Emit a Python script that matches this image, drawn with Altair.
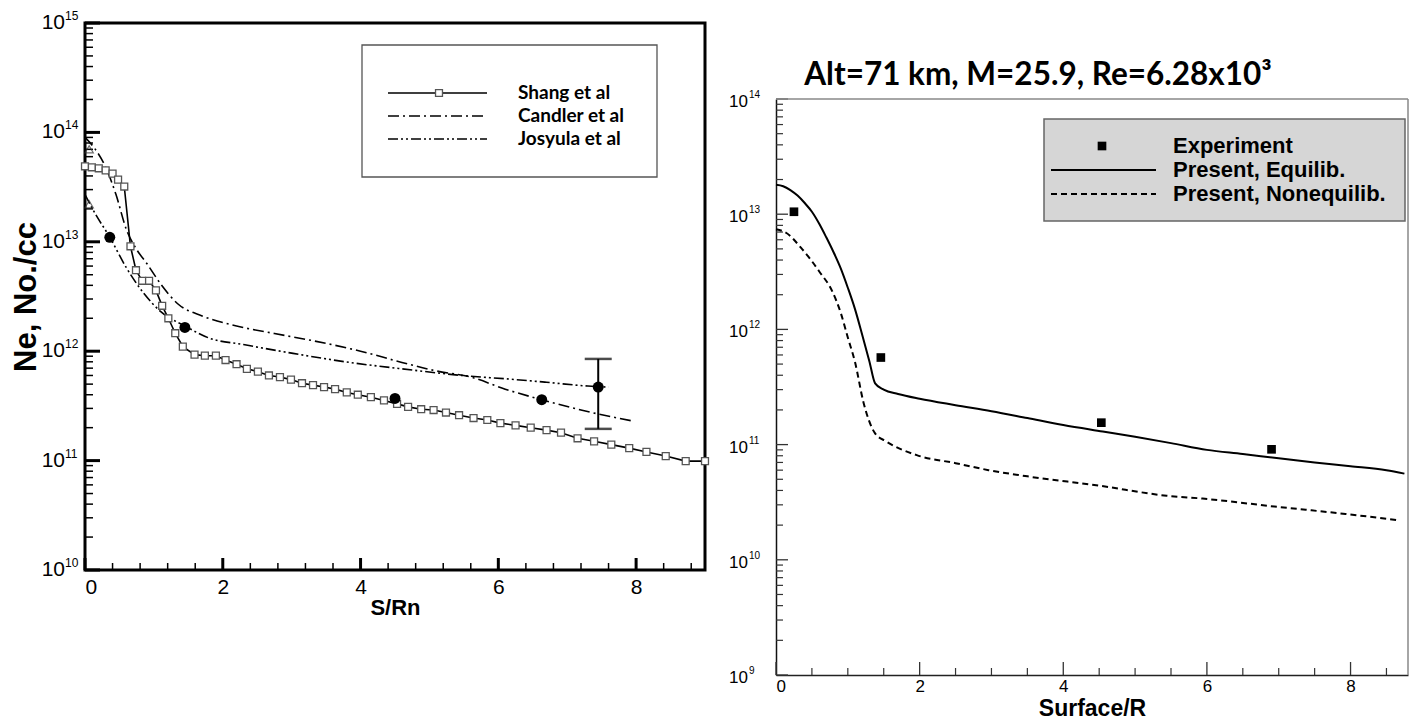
import altair as alt
import pandas as pd

FONT = "Liberation Sans"

# ---------------- left panel data ----------------
shang_x = [0, 0.1, 0.2, 0.3, 0.4, 0.48, 0.57, 0.66, 0.74, 0.83, 0.93, 1.03, 1.12, 1.21, 1.31, 1.42,
           1.59, 1.74, 1.90, 2.04, 2.20, 2.35, 2.51, 2.67, 2.83, 2.99, 3.15, 3.31, 3.47, 3.63, 3.80, 3.96,
           4.15, 4.34, 4.53, 4.69, 4.88, 5.06, 5.24, 5.43, 5.64, 5.84, 6.03, 6.25, 6.47, 6.70, 6.91, 7.15,
           7.39, 7.64, 7.90, 8.15, 8.43, 8.72, 9.0]
shang_y = [4.9e13, 4.8e13, 4.7e13, 4.5e13, 4.2e13, 3.7e13, 3.2e13, 9.1e12, 5.5e12, 4.4e12, 4.4e12, 3.6e12, 2.6e12, 2.0e12, 1.46e12, 1.1e12,
           9.3e11, 9.1e11, 9.1e11, 8.3e11, 7.6e11, 6.9e11, 6.5e11, 6.0e11, 5.8e11, 5.5e11, 5.1e11, 4.9e11, 4.7e11, 4.5e11, 4.2e11, 4.0e11,
           3.8e11, 3.55e11, 3.3e11, 3.1e11, 2.95e11, 2.9e11, 2.75e11, 2.6e11, 2.45e11, 2.35e11, 2.2e11, 2.1e11, 2.0e11, 1.9e11, 1.8e11, 1.6e11,
           1.5e11, 1.4e11, 1.3e11, 1.2e11, 1.1e11, 9.9e10, 9.9e10]

candler_x = [0.0, 0.15, 0.3, 0.45, 0.6, 0.75, 0.9, 1.1, 1.35, 1.7, 2.2, 2.75, 3.3, 4.0, 4.6, 5.1, 5.6, 6.1, 6.63, 7.2, 7.95]
candler_y = [9.0e13, 7.0e13, 4.8e13, 2.7e13, 1.3e13, 8.5e12, 6.3e12, 4.1e12, 2.7e12, 2.1e12, 1.7e12, 1.45e12, 1.25e12, 1.0e12,
             7.9e11, 6.6e11, 5.8e11, 4.5e11, 3.6e11, 2.9e11, 2.3e11]

josyula_x = [0.0, 0.15, 0.36, 0.6, 0.85, 1.1, 1.45, 1.8, 2.3, 3.0, 3.9, 4.6, 5.6, 6.1, 6.7, 7.3, 7.6]
josyula_y = [2.7e13, 1.8e13, 1.1e13, 5.8e12, 3.4e12, 2.3e12, 1.7e12, 1.32e12, 1.15e12, 9.6e11, 7.8e11, 6.9e11, 5.9e11,
             5.6e11, 5.2e11, 4.8e11, 4.7e11]

start_x = [0.06, 0.06]
start_y = [7.0e13, 2.2e13]

flight_x = [0.36, 1.45, 4.5, 6.63, 7.45]
flight_y = [1.1e13, 1.65e12, 3.7e11, 3.6e11, 4.7e11]

err_x = [7.45]
err_lo = [1.95e11]
err_hi = [8.5e11]

left_x_major = [0, 2, 4, 6, 8]
left_x_minor = [0.4, 0.8, 1.2, 1.6, 2.4, 2.8, 3.2, 3.6, 4.4, 4.8, 5.2, 5.6, 6.4, 6.8, 7.2, 7.6, 8.4, 8.8]
left_y_major = [1e10, 1e11, 1e12, 1e13, 1e14, 1e15]
left_y_exp = ["10", "11", "12", "13", "14", "15"]
left_y_minor = [m * d for d in [1e10, 1e11, 1e12, 1e13, 1e14] for m in [2, 3, 4, 5, 6, 7, 8, 9]]

left_legend = ["Shang et al", "Candler et al", "Josyula et al"]

# ---------------- right panel data ----------------
equil_x = [0.0, 0.1, 0.2, 0.3, 0.4, 0.5, 0.6, 0.7, 0.8, 0.9, 1.0, 1.1, 1.2, 1.3, 1.38, 1.5, 1.7, 2.0, 2.5, 3.0,
           3.5, 4.0, 4.55, 5.0, 5.5, 6.0, 6.5, 7.0, 7.5, 8.0, 8.5, 8.75]
equil_y = [1.8e13, 1.75e13, 1.62e13, 1.45e13, 1.25e13, 1.05e13, 8.3e12, 6.3e12, 4.7e12, 3.4e12, 2.3e12, 1.5e12,
           9.0e11, 5.3e11, 3.4e11, 3.0e11, 2.75e11, 2.5e11, 2.2e11, 1.95e11, 1.7e11, 1.48e11, 1.3e11, 1.17e11,
           1.03e11, 9.0e10, 8.3e10, 7.6e10, 7.0e10, 6.5e10, 6.0e10, 5.6e10]

noneq_x = [0.0, 0.14, 0.35, 0.6, 0.79, 0.9, 1.0, 1.1, 1.22, 1.38, 1.53, 1.96, 2.5, 2.96, 3.5, 4.5, 5.44, 5.94,
           6.94, 7.93, 8.68]
noneq_y = [7.4e12, 6.9e12, 5.1e12, 3.2e12, 2.1e12, 1.4e12, 8.5e11, 5.2e11, 2.3e11, 1.25e11, 1.07e11, 8.1e10, 6.9e10,
           6.0e10, 5.3e10, 4.4e10, 3.6e10, 3.4e10, 2.9e10, 2.5e10, 2.2e10]

exp_x = [0.25, 1.46, 4.53, 6.9]
exp_y = [1.05e13, 5.7e11, 1.55e11, 9.1e10]

right_x_major = [0, 2, 4, 6, 8]
right_x_minor = [0.5, 1, 1.5, 2.5, 3, 3.5, 4.5, 5, 5.5, 6.5, 7, 7.5, 8.5]
right_y_major = [1e9, 1e10, 1e11, 1e12, 1e13, 1e14]
right_y_exp = ["9", "10", "11", "12", "13", "14"]
right_y_minor = [m * d for d in [1e9, 1e10, 1e11, 1e12, 1e13] for m in [2, 3, 4, 5, 6, 7, 8, 9]]

right_legend = ["Experiment", "Present, Equilib.", "Present, Nonequilib."]
right_title = "Alt=71 km, M=25.9, Re=6.28x10\u00b3"

# ---------------- helpers ----------------
ONE = alt.Data(values=[{"k": 1}])


def df(x, y):
    return pd.DataFrame({"x": x, "y": y})


# ================= LEFT PANEL =================
LW, LH = 620, 547
lxs = alt.Scale(domain=[0, 9], nice=False, zero=False)
lys = alt.Scale(type="log", domain=[1e10, 1e15], nice=False)
lxa = alt.Axis(values=left_x_major, format="d", labelFont=FONT, labelFontSize=21, labelColor="black",
               labelPadding=6, ticks=False, domain=False, grid=False, title="S/Rn",
               titleFont=FONT, titleFontSize=22, titleFontWeight="bold", titleColor="black", titlePadding=0)
lya = alt.Axis(labels=False, ticks=False, domain=False, grid=False, title="Ne, No./cc",
               titleFont=FONT, titleFontSize=31, titleFontWeight="bold", titleColor="black", titlePadding=43)


def LX(f="x"):
    return alt.X(f"{f}:Q", scale=lxs, axis=lxa)


def LY(f="y"):
    return alt.Y(f"{f}:Q", scale=lys, axis=lya)


candler = alt.Chart(df(candler_x, candler_y)).mark_line(
    color="black", strokeWidth=1.6, strokeDash=[11, 4, 2, 4], interpolate="monotone").encode(x=LX(), y=LY())
josyula = alt.Chart(df(josyula_x, josyula_y)).mark_line(
    color="black", strokeWidth=1.6, strokeDash=[10, 3, 2, 3, 2, 3], interpolate="monotone").encode(x=LX(), y=LY())
shang_line = alt.Chart(df(shang_x, shang_y)).mark_line(color="black", strokeWidth=1.6).encode(x=LX(), y=LY())
shang_pts = alt.Chart(df(shang_x, shang_y)).mark_point(
    shape="square", size=48, filled=True, fill="white", fillOpacity=1, stroke="#555", strokeWidth=1.3, opacity=1
).encode(x=LX(), y=LY())
starts = alt.Chart(df(start_x, start_y)).mark_point(
    shape="triangle-up", size=70, filled=False, stroke="#333", strokeWidth=1.2).encode(x=LX(), y=LY())
flight = alt.Chart(df(flight_x, flight_y)).mark_circle(size=120, color="black", opacity=1).encode(x=LX(), y=LY())
err_df = pd.DataFrame({"x": err_x, "lo": err_lo, "hi": err_hi})
err_bar = alt.Chart(err_df).mark_rule(color="black", strokeWidth=2).encode(
    x=LX(), y=LY("lo"), y2=alt.Y2("hi:Q"))
caps = alt.Chart(df(err_x * 2, err_lo + err_hi)).mark_tick(
    orient="horizontal", size=27, thickness=2.5, color="black").encode(x=LX(), y=LY())

ly_major = alt.Chart(pd.DataFrame({"y": left_y_major})).mark_rule(
    color="black", strokeWidth=3).encode(y=LY(), x=alt.value(0), x2=alt.value(15))
ly_minor = alt.Chart(pd.DataFrame({"y": left_y_minor})).mark_rule(
    color="black", strokeWidth=1.5).encode(y=LY(), x=alt.value(0), x2=alt.value(8))
lx_major = alt.Chart(pd.DataFrame({"x": left_x_major})).mark_rule(
    color="black", strokeWidth=3).encode(x=LX(), y=alt.value(LH), y2=alt.value(LH - 12))
lx_minor = alt.Chart(pd.DataFrame({"x": left_x_minor})).mark_rule(
    color="black", strokeWidth=1.5).encode(x=LX(), y=alt.value(LH), y2=alt.value(LH - 7))
ly_lab = alt.Chart(pd.DataFrame({"y": left_y_major, "e": left_y_exp})).mark_text(
    align="right", baseline="middle", fontSize=21, font=FONT, color="black").encode(
    y=LY(), x=alt.value(-20), text=alt.value("10"))
ly_exp = alt.Chart(pd.DataFrame({"y": left_y_major, "e": left_y_exp})).mark_text(
    align="left", baseline="middle", fontSize=12, font=FONT, color="black", dy=-7).encode(
    y=LY(), x=alt.value(-20), text="e:N")

# legend (left)
L0x, L0y = 277, 22
leg_box = alt.Chart(ONE).mark_rect(fill="white", stroke="#555", strokeWidth=1.3).encode(
    x=alt.value(L0x), x2=alt.value(L0x + 295), y=alt.value(L0y), y2=alt.value(L0y + 132))
leg_rows = [70, 93, 116]
leg_dash = [[1, 0], [11, 4, 2, 4], [10, 3, 2, 3, 2, 3]]
left_leg_layers = [leg_box]
for yy, dash, lab in zip(leg_rows, leg_dash, left_legend):
    left_leg_layers.append(alt.Chart(ONE).mark_rule(color="black", strokeWidth=1.6, strokeDash=dash).encode(
        x=alt.value(303), x2=alt.value(402), y=alt.value(yy)))
    left_leg_layers.append(alt.Chart(ONE).mark_text(
        align="left", baseline="middle", font="Lato", fontWeight="bold", fontSize=19, color="black").encode(
        x=alt.value(433), y=alt.value(yy), text=alt.value(lab)))
left_leg_layers.append(alt.Chart(ONE).mark_point(
    shape="square", size=48, filled=True, fill="white", stroke="#555", strokeWidth=1.3, opacity=1).encode(
    x=alt.value(354), y=alt.value(leg_rows[0])))

left = alt.layer(
    ly_minor, ly_major, lx_minor, lx_major, candler, josyula, shang_line, shang_pts, starts,
    err_bar, caps, flight, ly_lab, ly_exp, *left_leg_layers
).properties(width=LW, height=LH, view=alt.ViewBackground(stroke="black", strokeWidth=3))

# ================= RIGHT PANEL =================
# the right panel's group is taller; the plot itself starts TOP px below the group top,
# leaving room for the panel title so that it sits lower than the left panel.
RW, TOP, RHT = 632, 76, 652
rxs = alt.Scale(domain=[0, 8.8], nice=False, zero=False)
rys = alt.Scale(type="log", domain=[1e9, 1e14], nice=False, range=[RHT, TOP])
rxa = alt.Axis(values=right_x_major, format="d", labelFont=FONT, labelFontSize=17, labelColor="black",
               labelPadding=3, ticks=False, domain=True, domainColor="#222", domainWidth=1.5, grid=False,
               title="Surface/R", titleFont=FONT, titleFontSize=23, titleFontWeight="bold", titleColor="black",
               titlePadding=3)
rya = alt.Axis(labels=False, ticks=False, domain=True, domainColor="#111", domainWidth=1.5, grid=False, title=None)


def RX(f="x"):
    return alt.X(f"{f}:Q", scale=rxs, axis=rxa)


def RY(f="y"):
    return alt.Y(f"{f}:Q", scale=rys, axis=rya)


equil = alt.Chart(df(equil_x, equil_y)).mark_line(
    color="black", strokeWidth=2, interpolate="monotone").encode(x=RX(), y=RY())
noneq = alt.Chart(df(noneq_x, noneq_y)).mark_line(
    color="black", strokeWidth=2, strokeDash=[6, 4], interpolate="monotone").encode(x=RX(), y=RY())
exper = alt.Chart(df(exp_x, exp_y)).mark_point(
    shape="square", size=75, filled=True, color="black", opacity=1).encode(x=RX(), y=RY())

ry_major = alt.Chart(pd.DataFrame({"y": right_y_major})).mark_rule(
    color="#333", strokeWidth=1.3).encode(y=RY(), x=alt.value(0), x2=alt.value(12))
ry_minor = alt.Chart(pd.DataFrame({"y": right_y_minor})).mark_rule(
    color="#333", strokeWidth=1.2).encode(y=RY(), x=alt.value(0), x2=alt.value(7))
rx_major = alt.Chart(pd.DataFrame({"x": right_x_major})).mark_rule(
    color="#333", strokeWidth=1.3).encode(x=RX(), y=alt.value(RHT), y2=alt.value(RHT - 13))
rx_minor = alt.Chart(pd.DataFrame({"x": right_x_minor})).mark_rule(
    color="#333", strokeWidth=1.2).encode(x=RX(), y=alt.value(RHT), y2=alt.value(RHT - 7))
ry_lab = alt.Chart(pd.DataFrame({"y": right_y_major, "e": right_y_exp})).mark_text(
    align="right", baseline="middle", fontSize=17, font=FONT, color="black", dy=3).encode(
    y=RY(), x=alt.value(-28), text=alt.value("10"))
ry_exp = alt.Chart(pd.DataFrame({"y": right_y_major, "e": right_y_exp})).mark_text(
    align="left", baseline="middle", fontSize=10, font=FONT, color="black", dy=-4).encode(
    y=RY(), x=alt.value(-27), text="e:N")

frame_top = alt.Chart(ONE).mark_rule(color="#888", strokeWidth=1.5).encode(
    x=alt.value(0), x2=alt.value(RW), y=alt.value(TOP))
frame_right = alt.Chart(ONE).mark_rule(color="#888", strokeWidth=1.5).encode(
    x=alt.value(RW), y=alt.value(TOP), y2=alt.value(RHT))
title_txt = alt.Chart(ONE).mark_text(
    align="center", baseline="middle", font="Lato", fontWeight="bold", fontSize=31.5, color="black").encode(
    x=alt.value(262), y=alt.value(TOP - 23), text=alt.value(right_title))

R0x, R0y = 268, TOP + 20
rleg_box = alt.Chart(ONE).mark_rect(fill="#d6d6d6", stroke="#666", strokeWidth=1.5).encode(
    x=alt.value(R0x), x2=alt.value(R0x + 361), y=alt.value(R0y), y2=alt.value(R0y + 102))
rrows = [TOP + 47, TOP + 71, TOP + 95]
right_leg_layers = [rleg_box]
right_leg_layers.append(alt.Chart(ONE).mark_point(
    shape="square", size=75, filled=True, color="black", opacity=1).encode(x=alt.value(326), y=alt.value(rrows[0])))
right_leg_layers.append(alt.Chart(ONE).mark_rule(color="black", strokeWidth=2).encode(
    x=alt.value(275), x2=alt.value(380), y=alt.value(rrows[1])))
right_leg_layers.append(alt.Chart(ONE).mark_rule(color="black", strokeWidth=2, strokeDash=[6, 4]).encode(
    x=alt.value(275), x2=alt.value(380), y=alt.value(rrows[2])))
for yy, lab in zip(rrows, right_legend):
    right_leg_layers.append(alt.Chart(ONE).mark_text(
        align="left", baseline="middle", font=FONT, fontWeight="bold", fontSize=22, color="black").encode(
        x=alt.value(397), y=alt.value(yy), text=alt.value(lab)))

right = alt.layer(
    ry_minor, ry_major, rx_minor, rx_major, noneq, equil, exper, ry_lab, ry_exp,
    frame_top, frame_right, title_txt, *right_leg_layers
).properties(
    width=RW, height=RHT,
    view=alt.ViewBackground(strokeOpacity=0),
)

chart = alt.hconcat(left, right, spacing=16).properties(
    padding={"left": 0, "top": 0, "right": 0, "bottom": 0}
).configure(font=FONT, background="white")

chart.save("out.html", embed_options={"renderer": "svg", "actions": False})
